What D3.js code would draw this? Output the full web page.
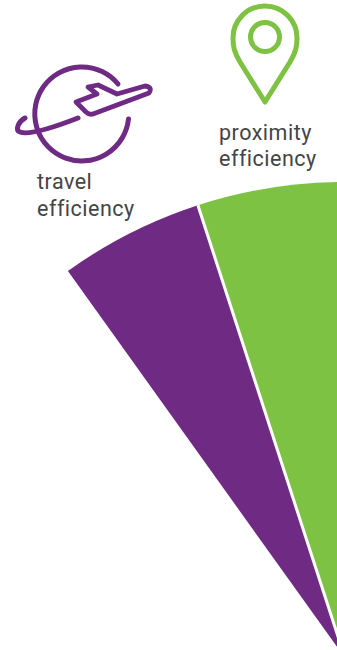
<!DOCTYPE html>
<html><head><meta charset="utf-8">
<script src="https://cdnjs.cloudflare.com/ajax/libs/d3/7.8.5/d3.min.js"></script>
<style>html,body{margin:0;background:#fff;overflow:hidden}svg{display:block}</style></head>
<body><svg id="c" width="337" height="650"></svg>
<script>
const categories = ["travel efficiency","proximity efficiency"];
const sweepDegrees = [17.6,18];
const colors = ["#6f2b84","#7dc242"];
const labels = [["travel","efficiency"],["proximity","efficiency"]];
const svg = d3.select("#c");
const rad = d3.scaleLinear().domain([0,360]).range([0,2*Math.PI]);
const pie = d3.pie().sort(null).startAngle(rad(-d3.sum(sweepDegrees))).endAngle(rad(0)).value(d=>d);
const arc = d3.arc().innerRadius(0).outerRadius(476);
const g = svg.append("g").attr("transform","translate(345,658)");
g.selectAll("path").data(pie(sweepDegrees)).join("path")
 .attr("d",arc).attr("fill",(d,i)=>colors[i]);
const sep = d3.lineRadial()([[rad(-sweepDegrees[1]),0],[rad(-sweepDegrees[1]),476]]);
g.append("path").attr("d",sep).attr("stroke","#fff").attr("stroke-width",3).attr("fill","none");
// icons
const pl = svg.append("g").attr("fill","none").attr("stroke",colors[0]).attr("stroke-width",5).attr("stroke-linecap","round").attr("stroke-linejoin","round");
pl.append("path").attr("d","M118,84 A47,47 0 1 0 128.5,119");
pl.append("path").attr("d","M25,118 C18,122 15,130 20,132 C30,136 60,125 78,118");
pl.append("path").attr("stroke-width",4.8).attr("d","M76,102 L97,94 L88,87 L98,85 L117,94 L145,86 Q153,87 149,93 L93,114 Q89,115 86,112 Z");
const ic = svg.append("g").attr("fill","none").attr("stroke",colors[1]).attr("stroke-width",5).attr("stroke-linejoin","round");
ic.append("path").attr("d","M265,102 L240,62 C234,52 233,46 233,38 A32,32 0 0 1 297,38 C297,46 296,52 290,62 Z");
ic.append("circle").attr("cx",265).attr("cy",37).attr("r",14.5);
const t = svg.append("g").attr("font-family","Roboto").attr("font-size",21.5).attr("letter-spacing",0.5).attr("fill","#444");
[[37,189,216],[219,140,166]].forEach((p,i)=>{
 labels[i].forEach((s,j)=>t.append("text").attr("x",p[0]).attr("y",p[1+j]).text(s));
});
</script></body></html>
